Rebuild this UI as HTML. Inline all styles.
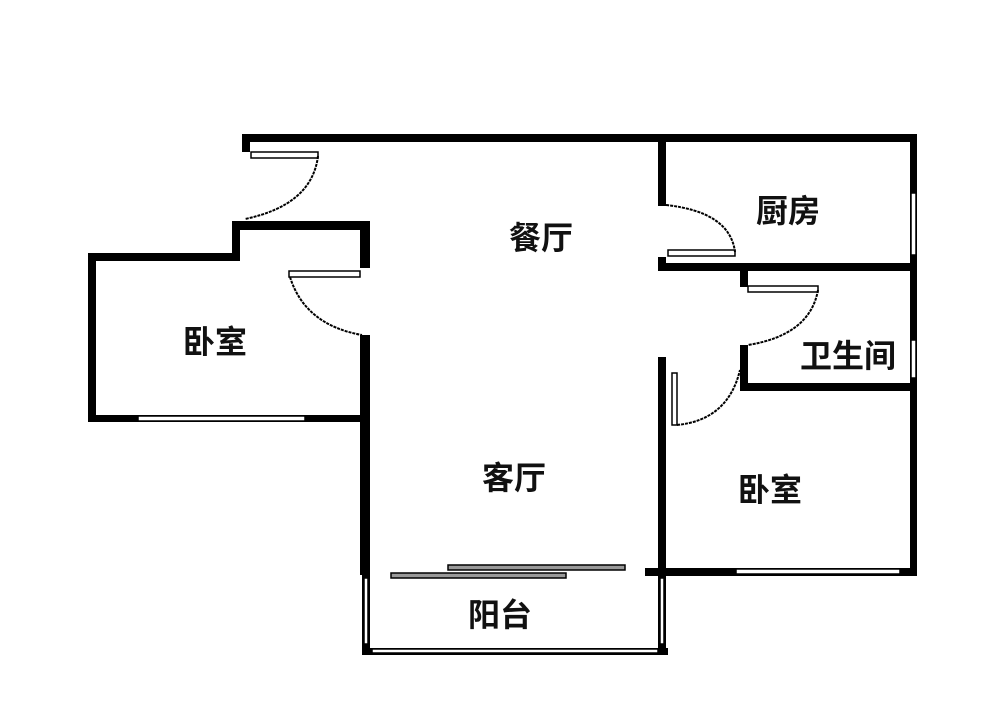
<!DOCTYPE html>
<html><head><meta charset="utf-8"><style>
html,body{margin:0;padding:0;background:#fff;width:1000px;height:707px;overflow:hidden}
text{font-family:"Liberation Sans","Noto Sans CJK SC",sans-serif;font-weight:bold;font-size:32px;fill:#111;text-anchor:middle;dominant-baseline:central}
</style></head><body>
<svg width="1000" height="707" viewBox="0 0 1000 707" xmlns="http://www.w3.org/2000/svg">
<g fill="#000">
<rect x="242" y="134" width="675" height="8"/>
<rect x="242" y="134" width="8" height="18"/>
<rect x="232" y="221" width="138" height="9"/>
<rect x="232" y="221" width="8" height="40"/>
<rect x="88" y="253" width="152" height="8"/>
<rect x="88" y="253" width="8" height="169"/>
<rect x="88" y="415" width="280" height="7"/>
<rect x="360" y="221" width="10" height="47"/>
<rect x="360" y="335" width="10" height="240"/>
<rect x="658" y="134" width="8" height="72"/>
<rect x="658" y="257" width="8" height="14"/>
<rect x="658" y="263" width="259" height="8"/>
<rect x="910" y="134" width="7" height="442"/>
<rect x="740" y="271" width="8" height="16"/>
<rect x="740" y="345" width="8" height="46"/>
<rect x="740" y="383" width="177" height="8"/>
<rect x="658" y="357" width="8" height="218"/>
<rect x="645" y="568" width="272" height="8"/>
<rect x="362" y="560" width="8" height="95"/>
<rect x="658" y="568" width="8" height="87"/>
<rect x="362" y="648" width="306" height="7"/>
</g>
<g fill="#fff" stroke="#000" stroke-width="1.5">
<rect x="138" y="416" width="167" height="5"/>
<rect x="911" y="193" width="5" height="62"/>
<rect x="911" y="340" width="5" height="38"/>
<rect x="736" y="569" width="164" height="5"/>
<rect x="364" y="578" width="4" height="66"/>
<rect x="660" y="578" width="4" height="66"/>
<rect x="372" y="649" width="286" height="4"/>
<rect x="251" y="152" width="67" height="6"/>
<rect x="289" y="271" width="71" height="6"/>
<rect x="668" y="250" width="67" height="6"/>
<rect x="748" y="286" width="70" height="6"/>
<rect x="672" y="373" width="5" height="52"/>
</g>
<g fill="#999" stroke="#000" stroke-width="1.5">
<rect x="448" y="565" width="177" height="5"/>
<rect x="391" y="573" width="175" height="5"/>
</g>
<g fill="none" stroke="#000" stroke-width="2" stroke-dasharray="3,1">
<path d="M318 156 Q312 205 245 219"/>
<path d="M290 277 Q305 325 362 335"/>
<path d="M666 205 Q730 212 735 252"/>
<path d="M818 290 Q810 335 748 345"/>
<path d="M677 425 Q728 420 740 370"/>
</g>
<text x="541" y="238">餐厅</text>
<text x="788" y="211">厨房</text>
<text x="215" y="342">卧室</text>
<text x="848" y="356">卫生间</text>
<text x="514" y="478">客厅</text>
<text x="770" y="490">卧室</text>
<text x="500" y="615">阳台</text>
</svg>
</body></html>
